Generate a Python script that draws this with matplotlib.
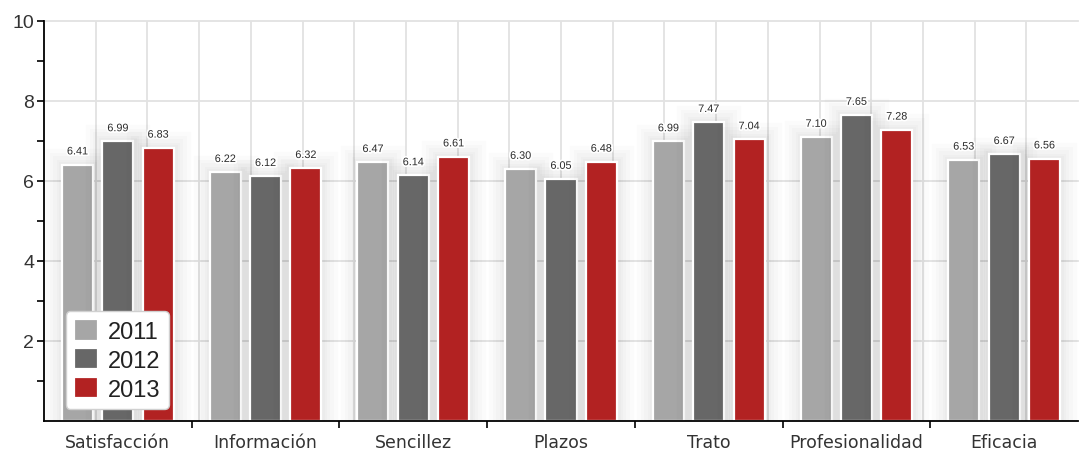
import matplotlib
matplotlib.use("Agg")
import matplotlib.pyplot as plt
import matplotlib.patheffects as pe
import numpy as np

categories = ["Satisfacción", "Información", "Sencillez", "Plazos", "Trato",
              "Profesionalidad", "Eficacia"]
years = ["2011", "2012", "2013"]
v2011 = [6.41, 6.22, 6.47, 6.30, 6.99, 7.10, 6.53]
v2012 = [6.99, 6.12, 6.14, 6.05, 7.47, 7.65, 6.67]
v2013 = [6.83, 6.32, 6.61, 6.48, 7.04, 7.28, 6.56]
series = [v2011, v2012, v2013]
colors = ["#a6a6a6", "#676767", "#b22222"]

fig = plt.figure(figsize=(10.82, 4.52), dpi=100)
ax = fig.add_axes([44 / 1082, 30 / 452, 1034 / 1082, 400 / 452])

n = len(categories)
span = 20.0
cw = span / n
centers = (np.arange(n) + 0.5) * cw
offs = [-0.78, 0.0, 0.78]
bw = 0.6

ax.set_xlim(0, span)
ax.set_ylim(0, 10)

# grid
for gx in range(1, 20):
    ax.axvline(gx, color="#e2e2e2", lw=1.3, zorder=0)
for gy in [2, 4, 6, 8, 10]:
    ax.axhline(gy, color="#e2e2e2", lw=1.3, zorder=0, clip_on=False)

glow = [pe.Stroke(linewidth=w, foreground="k", alpha=0.014) for w in (24, 18, 13, 8, 5)]
glow += [pe.Normal()]

for s, vals, col, yr in zip(range(3), series, colors, years):
    xs = centers + offs[s]
    bars = ax.bar(xs, vals, width=bw, color=col, edgecolor="white", linewidth=1.6,
                  zorder=2, label=yr)
    for b in bars:
        b.set_path_effects(glow)
    for x, v in zip(xs, vals):
        ax.annotate(f"{v:.2f}", (x, v), xytext=(0, 9.5), textcoords="offset points",
                    ha="center", va="center", fontsize=7.8, color="#2a2a2a",
                    family="Liberation Sans", zorder=4,
                    path_effects=[pe.withStroke(linewidth=2.5, foreground="white")])

# axes styling
for sp in ["top", "right"]:
    ax.spines[sp].set_visible(False)
ax.spines["left"].set_linewidth(1.3)
ax.spines["bottom"].set_linewidth(1.3)
ax.spines["left"].set_zorder(5)
ax.spines["bottom"].set_zorder(5)

ax.set_yticks([2, 4, 6, 8, 10])
ax.set_yticks([1, 3, 5, 7, 9], minor=True)
ax.tick_params(axis="y", which="both", length=5, width=1.2, pad=2, labelsize=14,
               labelcolor="#333333")
for t in ax.get_yticklabels():
    t.set_family("Liberation Sans")

ax.set_xticks(np.arange(1, n) * cw)
ax.set_xticklabels([])
ax.set_xticks(centers, minor=True)
ax.set_xticklabels(categories, minor=True, fontsize=12.5, color="#333333")
ax.tick_params(axis="x", which="major", length=5, width=1.2, direction="out")
ax.tick_params(axis="x", which="minor", length=0, pad=9)

leg = ax.legend(loc="lower left", bbox_to_anchor=(0.021, 0.03), borderaxespad=0,
                prop={"family": "Liberation Sans", "size": 17}, handlelength=1.0,
                handleheight=1.0, handletextpad=0.45, labelspacing=0.22,
                borderpad=0.35, fancybox=True, framealpha=1, edgecolor="#d0d0d0")
leg.get_frame().set_linewidth(1.0)
leg.set_zorder(6)
for h in leg.legend_handles:
    h.set_path_effects([])
    h.set_edgecolor("white")
for t in leg.get_texts():
    t.set_color("#222222")

fig.savefig("out.png", dpi=100, facecolor="white")
